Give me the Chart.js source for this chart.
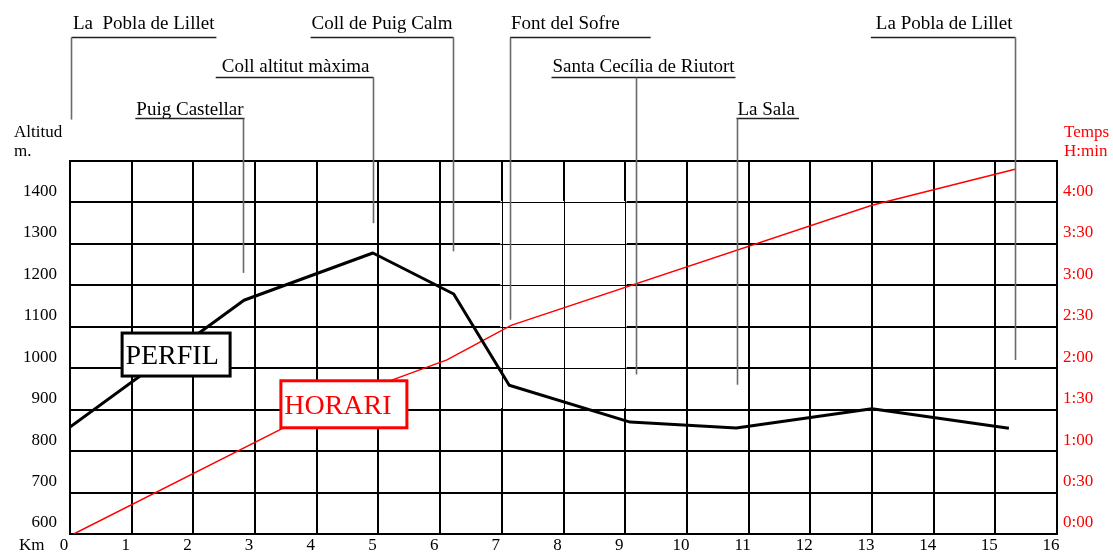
<!DOCTYPE html>
<html>
<head>
<meta charset="utf-8">
<script src="https://cdn.jsdelivr.net/npm/chart.js@4.4.1/dist/chart.umd.min.js"></script>
<style>
html,body{margin:0;padding:0;background:#fff;}
#wrap{width:1113px;height:552px;position:relative;}
canvas{display:block;}
</style>
</head>
<body>
<div id="wrap"><canvas id="c" width="1113" height="552"></canvas></div>
<script>
// ---------- DATA ----------
const altTickLabels = ['600','700','800','900','1000','1100','1200','1300','1400',''];
const timeTickLabels = ['0:00','0:30','1:00','1:30','2:00','2:30','3:00','3:30','4:00',''];
const kmTickLabels = ['0','1','2','3','4','5','6','7','8','9','10','11','12','13','14','15','16'];

// PERFIL (altitude profile)
const profileKm  = [0, 2.82, 4.91, 6.22, 7.12, 9.08, 10.80, 13.00, 15.22];
const profileAlt = [858, 1164, 1278, 1179, 959, 870, 856, 902, 855];

// HORARI (time, minutes)
const timeKm  = [0.06, 4.4, 6.11, 7.15, 13.0, 15.32];
const timeMin = [0, 98, 126, 151, 238, 264];

// Waypoints
const places = ['La  Pobla de Lillet','Puig Castellar','Coll altitut màxima','Coll de Puig Calm','Font del Sofre','Santa Cecília de Riutort','La Sala','La Pobla de Lillet'];
const placeKm = [0.01, 2.81, 4.91, 6.21, 7.14, 9.17, 10.81, 15.32];
const placeLeaderEndAlt = [1600, 1230, 1350, 1282, 1117, 985, 960, 1020];

// Boxed series labels
const boxLabels = ['PERFIL','HORARI'];
const boxKm  = [1.72, 4.44];
const boxAlt = [1033, 913];

// Lighter grid zone
const lightKm = [7, 9];
const lightAlt = [900, 1400];

// ---------- LAYOUT / STYLE ----------
const SERIF = '"Liberation Serif", "Times New Roman", serif';
const RED = '#ff0000';
const rowBaselines = [28.5, 72, 115];
const rowUnderlines = [37.5, 77.5, 118.5];
const placeLayout = [
  {row:0, align:'left',  dx:1.5, pre:0, post:1},
  {row:2, align:'right', dx:0,   pre:0, post:0},
  {row:1, align:'right', dx:-4,  pre:5, post:0},
  {row:0, align:'right', dx:-1,  pre:0, post:0},
  {row:0, align:'left',  dx:0.5, pre:0, post:30},
  {row:1, align:'left',  dx:-84, pre:0, post:0},
  {row:2, align:'left',  dx:0,   pre:0, post:3},
  {row:0, align:'right', dx:-3,  pre:4, post:0}
];
const boxStyles = [
  {w:108, h:43, color:'#000', textDx:-4},
  {w:126, h:47, color:RED, textDx:-6}
];

const decor = {
  id: 'decor',
  beforeDatasetsDraw(chart) {
    const {ctx, scales:{x, y}} = chart;
    const x1 = x.getPixelForValue(lightKm[0]), x2 = x.getPixelForValue(lightKm[1]);
    const yT = y.getPixelForValue(lightAlt[1]), yB = y.getPixelForValue(lightAlt[0]);
    ctx.save();
    ctx.fillStyle = '#fff';
    ctx.fillRect(x1 - 1.5, yT - 1.5, (x2 - x1) + 3, (yB - yT));
    ctx.strokeStyle = '#000';
    ctx.lineWidth = 1;
    ctx.beginPath();
    for (let k = lightKm[0]; k <= lightKm[1]; k++) {
      const px = Math.round(x.getPixelForValue(k)) + 0.5;
      ctx.moveTo(px, yT - 1.5); ctx.lineTo(px, yB);
    }
    for (let a = lightAlt[0] + 100; a <= lightAlt[1]; a += 100) {
      const py = Math.round(y.getPixelForValue(a)) + 0.5;
      ctx.moveTo(x1 - 1.5, py); ctx.lineTo(x2 + 1.5, py);
    }
    ctx.stroke();
    ctx.restore();
  },
  afterDatasetsDraw(chart) {
    const {ctx, chartArea, scales:{x, y}} = chart;
    ctx.save();
    // leaders + place labels
    ctx.font = '19px ' + SERIF;
    ctx.textAlign = 'left';
    ctx.textBaseline = 'alphabetic';
    places.forEach((name, i) => {
      const L = placeLayout[i];
      const lx = Math.round(x.getPixelForValue(placeKm[i])) + 0.5;
      const base = rowBaselines[L.row], ul = rowUnderlines[L.row];
      const w = ctx.measureText(name).width;
      const tx = L.align === 'left' ? lx + L.dx : lx + L.dx - w;
      ctx.fillStyle = '#000';
      ctx.fillText(name, tx, base);
      const u1 = Math.min(tx - 1 - L.pre, lx), u2 = Math.max(tx + w + 1 + L.post, lx);
      ctx.strokeStyle = '#222';
      ctx.lineWidth = 1.3;
      ctx.beginPath(); ctx.moveTo(u1, ul); ctx.lineTo(u2, ul); ctx.stroke();
      ctx.strokeStyle = '#6a6a6a';
      ctx.lineWidth = 1.6;
      ctx.beginPath(); ctx.moveTo(lx, ul); ctx.lineTo(lx, y.getPixelForValue(placeLeaderEndAlt[i])); ctx.stroke();
    });
    // boxed labels
    boxLabels.forEach((t, i) => {
      const s = boxStyles[i];
      const cx = x.getPixelForValue(boxKm[i]), cy = y.getPixelForValue(boxAlt[i]);
      ctx.fillStyle = '#fff';
      ctx.fillRect(cx - s.w/2, cy - s.h/2, s.w, s.h);
      ctx.strokeStyle = s.color;
      ctx.lineWidth = 3;
      ctx.strokeRect(cx - s.w/2, cy - s.h/2, s.w, s.h);
      ctx.fillStyle = s.color;
      ctx.font = '28px ' + SERIF;
      ctx.textAlign = 'center';
      ctx.textBaseline = 'alphabetic';
      ctx.fillText(t, cx + s.textDx, cy + 9.5);
    });
    // axis titles
    ctx.font = '17px ' + SERIF;
    ctx.textAlign = 'left';
    ctx.fillStyle = '#000';
    ctx.fillText('Altitud', chartArea.left - 56, chartArea.top - 24);
    ctx.fillText('m.', chartArea.left - 56, chartArea.top - 5);
    ctx.fillText('Km', chartArea.left - 51, chartArea.bottom + 15.5);
    ctx.fillStyle = RED;
    ctx.fillText('Temps', chartArea.right + 7, chartArea.top - 24);
    ctx.fillText('H:min', chartArea.right + 7, chartArea.top - 5);
    ctx.restore();
  }
};

const tickFont = {family: SERIF, size: 17};
const fitV = (w) => (s) => { s.width = w; s.paddingTop = 0; s.paddingBottom = 0; };

new Chart(document.getElementById('c'), {
  type: 'line',
  data: {
    datasets: [
      {
        label: 'PERFIL',
        data: profileKm.map((k, i) => ({x: k, y: profileAlt[i]})),
        borderColor: '#000', borderWidth: 3, pointRadius: 0, tension: 0, yAxisID: 'y',
        borderJoinStyle: 'round', borderCapStyle: 'butt'
      },
      {
        label: 'HORARI',
        data: timeKm.map((k, i) => ({x: k, y: timeMin[i]})),
        borderColor: RED, borderWidth: 1.5, pointRadius: 0, tension: 0, yAxisID: 'y2'
      }
    ]
  },
  options: {
    responsive: false,
    animation: false,
    events: [],
    layout: {padding: {top: 161, left: 0, right: 0, bottom: 0}},
    plugins: {legend: {display: false}, tooltip: {enabled: false}},
    scales: {
      x: {
        type: 'linear', min: 0, max: 16,
        afterFit: s => { s.height = 18; s.paddingLeft = 0; s.paddingRight = 0; },
        ticks: {
          stepSize: 1, autoSkip: false, maxRotation: 0, color: '#000', font: tickFont,
          padding: 1, labelOffset: -6,
          callback: (v) => kmTickLabels[Math.round(v)] ?? ''
        },
        grid: {color: '#000', lineWidth: 2, drawTicks: false},
        border: {color: '#000', width: 2}
      },
      y: {
        position: 'left', min: 600, max: 1500,
        afterFit: fitV(70),
        ticks: {
          stepSize: 100, color: '#000', font: tickFont, padding: 13, labelOffset: -11,
          callback: (v) => altTickLabels[Math.round((v - 600) / 100)] ?? ''
        },
        grid: {color: '#000', lineWidth: 2, drawTicks: false},
        border: {color: '#000', width: 2}
      },
      y2: {
        position: 'right', min: 0, max: 270,
        afterFit: fitV(56),
        ticks: {
          stepSize: 30, color: RED, font: tickFont, padding: 6, labelOffset: -11,
          callback: (v) => timeTickLabels[Math.round(v / 30)] ?? ''
        },
        grid: {display: false, drawTicks: false},
        border: {color: '#000', width: 2}
      }
    }
  },
  plugins: [decor]
});
</script>
</body>
</html>
